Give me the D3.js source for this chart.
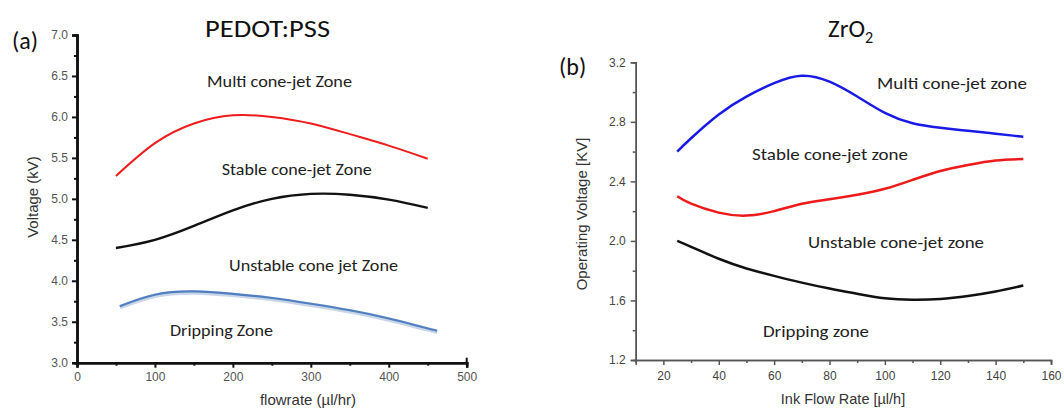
<!DOCTYPE html>
<html><head><meta charset="utf-8">
<script src="https://cdn.jsdelivr.net/npm/d3@7"></script>
<style>
body{margin:0;background:#fff;}
svg{display:block;}
.tick text{font-family:"Liberation Sans",Arial,sans-serif;}
</style></head>
<body><svg id="c" width="1064" height="408"></svg>
<script>
// ---- Panel (a) PEDOT:PSS ----
const aFlowRed = [50,100,150,200,250,300,350,400,450];
const aRed = [5.28,5.68,5.92,6.02,6.00,5.92,5.79,5.65,5.49];
const aFlowBlack = [50,100,150,200,250,300,350,400,450];
const aBlack = [4.40,4.50,4.67,4.86,5.00,5.06,5.05,4.99,4.89];
const aFlowBlue = [55,100,150,200,250,300,350,400,462];
const aBlue = [3.69,3.83,3.87,3.84,3.79,3.72,3.64,3.54,3.39];
const aXTicks = [0,100,200,300,400,500];
const aYTicks = [3.0,3.5,4.0,4.5,5.0,5.5,6.0,6.5,7.0];
const aZones = ["Multi cone-jet Zone","Stable cone-jet Zone","Unstable cone jet Zone","Dripping Zone"];

// ---- Panel (b) ZrO2 ----
const bFlow = [25,30,40,50,60,70,80,90,100,110,120,130,140,150];
const bBlue = [2.60,2.69,2.85,2.97,3.06,3.11,3.07,2.97,2.86,2.79,2.76,2.74,2.72,2.70];
const bRed = [2.30,2.25,2.19,2.17,2.20,2.25,2.28,2.31,2.35,2.41,2.47,2.51,2.54,2.55];
const bBlack = [2.00,1.96,1.88,1.815,1.765,1.72,1.68,1.645,1.615,1.605,1.61,1.63,1.66,1.70];
const bXTicks = [20,40,60,80,100,120,140,160];
const bYTicks = [1.2,1.6,2.0,2.4,2.8,3.2];
const bZones = ["Multi cone-jet zone","Stable cone-jet zone","Unstable cone-jet zone","Dripping zone"];

const svg = d3.select("#c");
const zoneFont = "Carlito, Calibri, Lato, 'Open Sans', sans-serif";
const tickFont = "'Liberation Sans', Arial, sans-serif";

function fitText(sel, w){ sel.attr("textLength", w).attr("lengthAdjust","spacingAndGlyphs"); }

// ===== Panel (a) =====
{
  const x = d3.scaleLinear().domain([0,500]).range([77,466.7]);
  const y = d3.scaleLinear().domain([3,7]).range([362.7,35]);
  const g = svg.append("g");
  const xa = d3.axisBottom(x).tickValues(d3.range(50,500,100)).tickSize(3).tickFormat("");
  const ya = d3.axisLeft(y).tickValues(d3.range(3.25,7,0.5)).tickSize(3).tickFormat("");
  g.append("g").attr("transform",`translate(0,${y(3)})`).call(xa);
  g.append("g").attr("transform",`translate(${x(0)},0)`).call(ya);
  g.append("g").attr("transform",`translate(0,${y(3)})`)
    .call(d3.axisBottom(x).tickValues(aXTicks).tickSize(5).tickPadding(5).tickFormat(d3.format("d")));
  g.append("g").attr("transform",`translate(${x(0)},0)`)
    .call(d3.axisLeft(y).tickValues(aYTicks).tickSize(5).tickPadding(4).tickFormat(d3.format(".1f")));
  g.selectAll(".domain").attr("stroke","#111").attr("stroke-width",2.5);
  g.selectAll(".tick line").attr("stroke","#111").attr("stroke-width",2);
  g.selectAll(".tick text").attr("fill","#555").style("font-size","12px").style("font-family",tickFont);
  g.append("line").attr("x1",x(500)).attr("x2",x(500)).attr("y1",y(3)-5).attr("y2",y(3)).attr("stroke","#111").attr("stroke-width",2);

  const line = d3.line().curve(d3.curveNatural);
  const pts = (xs,ys)=>xs.map((v,i)=>[x(v),y(ys[i])]);
  g.append("path").attr("d",line(pts(aFlowRed,aRed))).attr("fill","none").attr("stroke","#ee1c1c").attr("stroke-width",2);
  g.append("path").attr("d",line(pts(aFlowBlack,aBlack))).attr("fill","none").attr("stroke","#111").attr("stroke-width",2.3);
  g.append("path").attr("d",line(pts(aFlowBlue,aBlue))).attr("fill","none").attr("stroke","#c9d6e8").attr("stroke-width",4.5).attr("transform","translate(0,1)");
  g.append("path").attr("d",line(pts(aFlowBlue,aBlue))).attr("fill","none").attr("stroke","#4f7fc0").attr("stroke-width",2.2);

  svg.append("text").attr("x",12).attr("y",49).text("(a)").style("font-family",zoneFont).style("font-size","24px").attr("fill","#111");
  svg.append("text").attr("x",267.5).attr("y",36.5).attr("text-anchor","middle").text("PEDOT:PSS")
     .style("font-family",zoneFont).style("font-size","25px").attr("fill","#111").call(fitText,125);
  const zx = [279.5,296.7,313.5,221.5], zy=[87.3,175,270.7,336], zw=[145,150,169,103];
  aZones.forEach((t,i)=>{
    svg.append("text").attr("x",zx[i]).attr("y",zy[i]).attr("text-anchor","middle").text(t)
      .style("font-family",zoneFont).style("font-size","16.5px").attr("fill","#222").call(fitText,zw[i]);
  });
  svg.append("text").attr("transform","translate(38,197) rotate(-90)").attr("text-anchor","middle")
    .text("Voltage (kV)").style("font-family",tickFont).style("font-size","15px").attr("fill","#333");
  svg.append("text").attr("x",308).attr("y",405).attr("text-anchor","middle")
    .text("flowrate (\u00b5l/hr)").style("font-family",tickFont).style("font-size","15px").attr("fill","#333");
}

// ===== Panel (b) =====
{
  const x = d3.scaleLinear().domain([10,160]).range([635.7,1051]);
  const y = d3.scaleLinear().domain([1.2,3.2]).range([360,62.3]);
  const g = svg.append("g");
  g.append("g").attr("transform",`translate(0,${y(1.2)})`)
    .call(d3.axisBottom(x).tickValues(d3.range(30,160,20)).tickSize(3).tickFormat(""));
  g.append("g").attr("transform",`translate(${x(10)},0)`)
    .call(d3.axisLeft(y).tickValues([1.4,1.8,2.2,2.6,3.0]).tickSize(3).tickFormat(""));
  g.append("g").attr("transform",`translate(0,${y(1.2)})`)
    .call(d3.axisBottom(x).tickValues(bXTicks).tickSize(5).tickPadding(6).tickFormat(d3.format("d")));
  g.append("g").attr("transform",`translate(${x(10)},0)`)
    .call(d3.axisLeft(y).tickValues(bYTicks).tickSize(5).tickPadding(5).tickFormat(d3.format(".1f")));
  g.selectAll(".domain").attr("stroke","#555").attr("stroke-width",1.5);
  g.selectAll(".tick line").attr("stroke","#555").attr("stroke-width",1.5);
  g.selectAll(".tick text").attr("fill","#444").style("font-size","12px").style("font-family",tickFont);

  const line = d3.line().curve(d3.curveNatural);
  const pts = ys=>bFlow.map((v,i)=>[x(v),y(ys[i])]);
  g.append("path").attr("d",line(pts(bBlue))).attr("fill","none").attr("stroke","#1a1ae6").attr("stroke-width",2.5);
  g.append("path").attr("d",line(pts(bRed))).attr("fill","none").attr("stroke","#ee1a1a").attr("stroke-width",2.5);
  g.append("path").attr("d",line(pts(bBlack))).attr("fill","none").attr("stroke","#111").attr("stroke-width",2.5);

  svg.append("text").attr("x",559).attr("y",75).text("(b)").style("font-family",zoneFont).style("font-size","24px").attr("fill","#111");
  const tt = svg.append("text").attr("x",828).attr("y",36.7).style("font-family",zoneFont).style("font-size","25px").attr("fill","#111");
  tt.append("tspan").text("ZrO");
  tt.append("tspan").attr("dy",6).style("font-size","16px").text("2");
  const zx = [952,830,896,816], zy=[89.3,160,248.3,336.7], zw=[150,156,176,106];
  bZones.forEach((t,i)=>{
    svg.append("text").attr("x",zx[i]).attr("y",zy[i]).attr("text-anchor","middle").text(t)
      .style("font-family",zoneFont).style("font-size","16.5px").attr("fill","#222").call(fitText,zw[i]);
  });
  svg.append("text").attr("transform","translate(587,214) rotate(-90)").attr("text-anchor","middle")
    .text("Operating Voltage [KV]").style("font-family",tickFont).style("font-size","15px").attr("fill","#333");
  svg.append("text").attr("x",843).attr("y",404).attr("text-anchor","middle")
    .text("Ink Flow Rate [\u00b5l/h]").style("font-family",tickFont).style("font-size","14.5px").attr("fill","#333");
}
</script></body></html>
